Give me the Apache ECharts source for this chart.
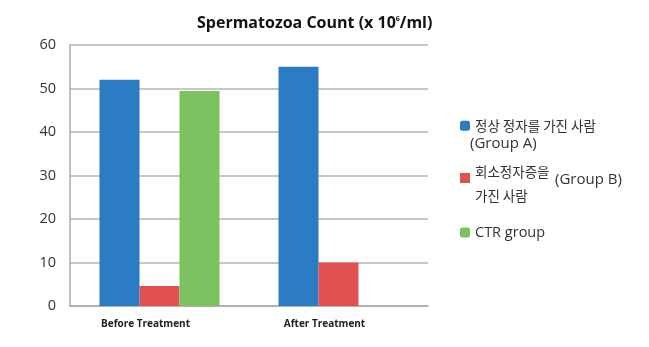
<!DOCTYPE html>
<html><head><meta charset="utf-8">
<script src="https://cdn.jsdelivr.net/npm/echarts@6/dist/echarts.min.js"></script>
<style>html,body{margin:0;padding:0;background:#fff}#c{width:649px;height:347px}</style>
</head><body><div id="c"></div>
<script>
var categories = ['Before Treatment', 'After Treatment'];
var groupA = [52, 55];
var groupB = [4.6, 10];
var ctrGroup = [49.4, null];
var yTicks = [0, 10, 20, 30, 40, 50, 60];
var seriesNames = ['정상 정자를 가진 사람', '회소정자증을\n가진 사람', 'CTR group'];
var colors = ['#2b7bc5', '#e05151', '#7cc160'];

var chart = echarts.init(document.getElementById('c'));
var legendText = {fontFamily: '"Noto Sans CJK KR", "Noto Sans", sans-serif', fontSize: 13.5, color: '#333'};
chart.setOption({
  animation: false,
  title: {
    text: 'Spermatozoa Count (x 10{s|6}/ml)',
    left: 192, top: 10,
    textStyle: {fontFamily: '"Open Sans", sans-serif', fontWeight: 'bold', fontSize: 16, color: '#111',
      rich: {s: {fontSize: 7, fontWeight: 'bold', verticalAlign: 'top', padding: [0, 0, 7, 0], fontFamily: '"Open Sans", sans-serif', color: '#111'}}}
  },
  grid: {left: 70, right: 221, top: 45, bottom: 41},
  legend: [
    {data: [seriesNames[0]], left: 455, top: 114, itemWidth: 10, itemHeight: 10, itemGap: 0, textStyle: legendText},
    {data: [{name: seriesNames[1], icon: 'path://M0,0h10v10h-10z M0,22h0.01v0.01h-0.01z'}], left: 455, top: 155, itemWidth: 10, itemHeight: 22, textStyle: Object.assign({}, legendText, {lineHeight: 24})},
    {data: [seriesNames[2]], left: 455, top: 220, itemWidth: 10, itemHeight: 10, textStyle: Object.assign({}, legendText, {fontFamily: '"Open Sans", sans-serif', fontSize: 14.5})}
  ],
  graphic: [
    {type: 'text', left: 470, top: 136, style: {text: '(Group A)', font: '15px "Open Sans", sans-serif', fill: '#333'}},
    {type: 'text', left: 555, top: 172, style: {text: '(Group B)', font: '15px "Open Sans", sans-serif', fill: '#333'}}
  ],
  xAxis: {
    type: 'category', data: categories,
    axisLine: {lineStyle: {color: '#aaaaaa', width: 1.5}},
    axisTick: {show: false},
    axisLabel: {margin: 13, fontFamily: '"Open Sans", sans-serif', fontWeight: 'bold', fontSize: 10, color: '#222',
      formatter: function (v) { return '{a|' + v + '}'; },
      rich: {a: {padding: [0, 28, 0, 0], fontFamily: '"Open Sans", sans-serif', fontWeight: 'bold', fontSize: 10, color: '#222'}}}
  },
  yAxis: {
    type: 'value', min: 0, max: 60, interval: 10,
    axisLine: {show: true, lineStyle: {color: '#aaaaaa', width: 1.5}},
    axisTick: {show: false},
    splitLine: {lineStyle: {color: '#b4b4b4', width: 1.5}},
    axisLabel: {margin: 14, fontFamily: '"Open Sans", sans-serif', fontSize: 14.5, color: '#333',
      formatter: function (v) { return yTicks.indexOf(v) >= 0 ? String(v) : ''; }}
  },
  series: [
    {name: seriesNames[0], type: 'bar', data: groupA, barWidth: 40, barGap: '0%', itemStyle: {color: colors[0]}},
    {name: seriesNames[1], type: 'bar', data: groupB, barWidth: 40, barGap: '0%', itemStyle: {color: colors[1]}},
    {name: seriesNames[2], type: 'bar', data: ctrGroup, barWidth: 40, barGap: '0%', itemStyle: {color: colors[2]}}
  ]
});
</script></body></html>
